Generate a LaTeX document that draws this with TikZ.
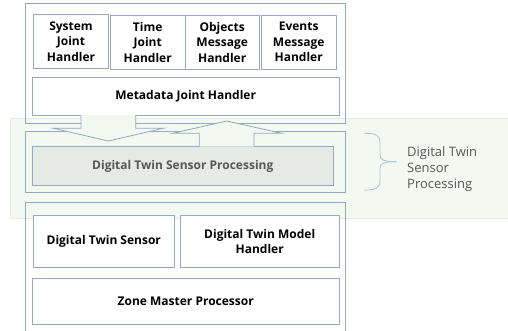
\documentclass[tikz,border=0pt]{standalone}
\usepackage{fontspec}
\setmainfont{Open Sans}
\usetikzlibrary{calc}
\usepackage{xcolor}
\definecolor{boxline}{HTML}{93AAC6}
\definecolor{arrline}{HTML}{92A9BF}
\definecolor{bandfill}{HTML}{F3F8F1}
\definecolor{bandline}{HTML}{E2EEDB}
\definecolor{dtspfill}{HTML}{E5EAE4}
\definecolor{bracec}{HTML}{A9C5DE}
\definecolor{labgray}{HTML}{575757}

\begin{document}
\begin{tikzpicture}[x=1pt,y=-1pt,
		font=\fontsize{12}{15.5}\selectfont\bfseries]
		\tikzstyle{every node}=[inner sep=0pt, align=center]
		\tikzstyle{frame}=[draw=boxline, line width=0.8pt]
		\tikzstyle{block}=[draw=boxline, fill=white, line width=0.8pt]
		\tikzstyle{blockarrow}=[draw=arrline, fill=bandfill, line width=0.8pt]
		\useasboundingbox (0,0) rectangle (508,330);
		% band behind the middle layer
		\fill[bandfill] (10,118.3) rectangle (520,218.3);
		\draw[bandline] (520,118.3) -- (10,118.3) -- (10,218.3) -- (520,218.3);
		% top layer
		\node[frame, minimum width=320pt, minimum height=120pt] (top) at (185.7,63.3) {};
		\node[block, minimum width=75.4pt, minimum height=54pt] (sys) at (71,41.3) {System\\Joint\\Handler};
		\node[block, minimum width=74.7pt, minimum height=54.3pt] (time) at (147.7,42.2) {Time\\Joint\\Handler};
		\node[block, minimum width=74.3pt, minimum height=54.3pt] (obj) at (222.2,42.2) {Objects\\Message\\Handler};
		\node[block, minimum width=74.7pt, minimum height=54.3pt] (evt) at (298.7,42.2) {Events\\Message\\Handler};
		\node[block, minimum width=306.7pt, minimum height=37.7pt] (meta) at (185.7,96.2) {Metadata Joint Handler};
		% middle layer
		\node[frame, minimum width=319.3pt, minimum height=60.6pt] (mid) at (185.3,162) {};
		\node[draw=boxline, fill=dtspfill, line width=0.8pt, minimum width=301pt, minimum height=39pt, text=labgray] (dtsp) at (182.8,166.2) {Digital Twin Sensor Processing};
		% bottom layer
		\node[frame, minimum width=319.3pt, minimum height=130pt] (bot) at (185.3,267.3) {};
		\node[block, minimum width=141pt, minimum height=51.6pt] (sensor) at (103.8,241.5) {Digital Twin Sensor};
		\node[block, minimum width=158.7pt, minimum height=51.6pt] (model) at (259.7,241.5) {Digital Twin Model\\Handler};
		\node[block, minimum width=306.7pt, minimum height=45.7pt] (zone) at (185.7,301.2) {Zone Master Processor};
		% block arrows
		\path[blockarrow] (81,115) -- (81,128.3) -- (53.3,128.3) -- (108.3,141) -- (163.3,128.3) -- (135.7,128.3) -- (135.7,115);
		\path[blockarrow] (199.3,146.7) -- (199.3,133.3) -- (172.7,133.3) -- (226.7,121) -- (281.7,133.3) -- (254,133.3) -- (254,146.7);
		% brace and label
		\coordinate (tip) at (396.7,161.7);
		\draw[bracec, line width=0.8pt] (364,133.3) .. controls (376,133.3) and (380,135) .. (380,143) -- (380,155) .. controls (380,160) and (384,161.7) .. (tip);
		\draw[bracec, line width=0.8pt] (364,190) .. controls (376,190) and (380,188.3) .. (380,180.3) -- (380,168.3) .. controls (380,163.3) and (384,161.7) .. (tip);
		\node[anchor=west, align=left, text=labgray, font=\fontsize{13}{16}\selectfont] (lab) at (407,169) {Digital Twin\\Sensor\\Processing};
	\end{tikzpicture}
\end{document}
